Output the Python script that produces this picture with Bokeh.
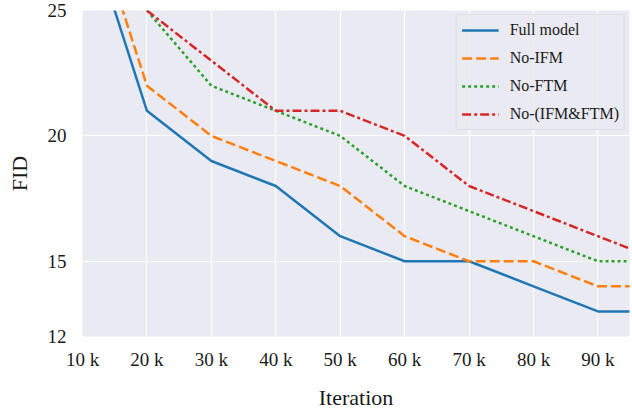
from bokeh.plotting import figure
from bokeh.models import FixedTicker, Range1d, Legend, LegendItem
from bokeh.embed import file_html
from bokeh.resources import INLINE

iterations = [10000, 20000, 30000, 40000, 50000, 60000, 70000, 80000, 90000, 100000]
full_model = [29, 21, 19, 18, 16, 15, 15, 14, 13, 13]
no_ifm = [30, 22, 20, 19, 18, 16, 15, 15, 14, 14]
no_ftm_x = iterations[1:]
no_ftm = [25, 22, 21, 20, 18, 17, 16, 15, 15]
no_both_x = iterations[1:]
no_both = [25, 23, 21, 21, 20, 18, 17, 16, 15]

x_ticks = [10000, 20000, 30000, 40000, 50000, 60000, 70000, 80000, 90000]
x_tick_labels = ["10 k", "20 k", "30 k", "40 k", "50 k", "60 k", "70 k", "80 k", "90 k"]
y_ticks = [12, 15, 20, 25]

FONT = "Liberation Serif"
TXT = "#1a1a1a"

p = figure(width=632, height=412, output_backend="svg", toolbar_location=None,
           x_range=Range1d(10000, 94900), y_range=Range1d(12, 25),
           min_border_left=82, min_border_right=3, min_border_top=10, min_border_bottom=75)
p.background_fill_color = "#EAEAF2"
p.border_fill_color = "white"
p.outline_line_color = None

p.xgrid.ticker = FixedTicker(ticks=x_ticks)
p.ygrid.ticker = FixedTicker(ticks=y_ticks)
p.grid.grid_line_color = "white"
p.grid.grid_line_width = 1.2

p.xaxis.ticker = FixedTicker(ticks=x_ticks)
p.xaxis.major_label_overrides = {t: l for t, l in zip(x_ticks, x_tick_labels)}
p.yaxis.ticker = FixedTicker(ticks=y_ticks)
for ax in (p.xaxis, p.yaxis):
    ax.axis_line_color = None
    ax.major_tick_line_color = None
    ax.minor_tick_line_color = None
    ax.major_tick_out = 0
    ax.major_tick_in = 0
    ax.minor_tick_out = 0
    ax.major_label_text_font = FONT
    ax.major_label_text_font_size = "19px"
    ax.major_label_text_color = TXT
    ax.axis_label_text_font = FONT
    ax.axis_label_text_font_size = "22px"
    ax.axis_label_text_font_style = "normal"
    ax.axis_label_text_color = TXT
p.xaxis.major_label_standoff = 12
p.yaxis.major_label_standoff = 16
p.xaxis.axis_label = "Iteration"
p.yaxis.axis_label = "FID"
p.xaxis.axis_label_standoff = 12
p.yaxis.axis_label_standoff = 13

r1 = p.line(iterations, full_model, line_color="#1f77b4", line_width=2.5)
r2 = p.line(iterations, no_ifm, line_color="#ff7f0e", line_width=2.5, line_dash="10 4")
r3 = p.line(no_ftm_x, no_ftm, line_color="#2ca02c", line_width=2.5, line_dash="3 3")
r4 = p.line(no_both_x, no_both, line_color="#d62728", line_width=2.5, line_dash="9 3 3 3")

legend = Legend(items=[
    LegendItem(label="Full model", renderers=[r1]),
    LegendItem(label="No-IFM", renderers=[r2]),
    LegendItem(label="No-FTM", renderers=[r3]),
    LegendItem(label="No-(IFM&FTM)", renderers=[r4]),
], location="top_right")
legend.label_text_font = FONT
legend.label_text_font_size = "16px"
legend.label_text_color = TXT
legend.background_fill_color = "#EAEAF2"
legend.background_fill_alpha = 0.85
legend.border_line_color = "#cfcfd6"
legend.border_line_width = 1
legend.glyph_width = 37
legend.glyph_height = 20
legend.label_height = 20
legend.spacing = 8
legend.padding = 5
legend.margin = 4
legend.label_standoff = 11
p.add_layout(legend)

open("out.html", "w").write(file_html(p, INLINE))
